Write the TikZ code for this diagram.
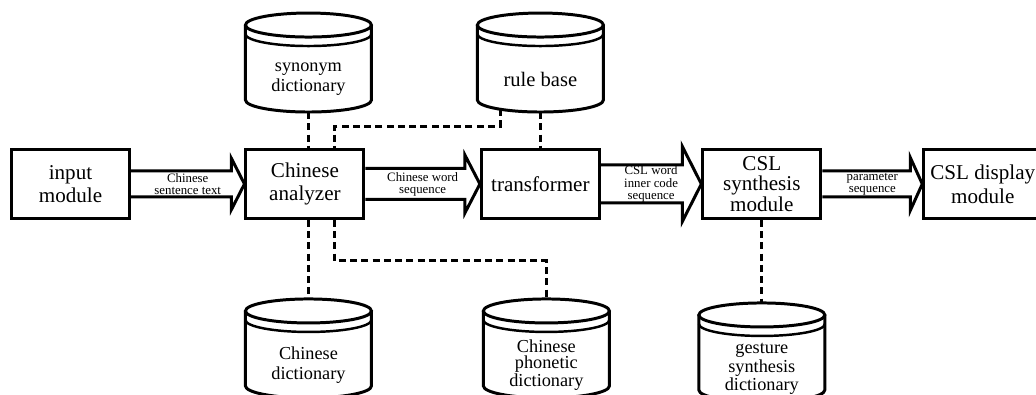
\documentclass[tikz,border=0pt]{standalone}
\usepackage{fontspec}
\setmainfont{Liberation Serif}
\usetikzlibrary{calc,positioning}
\tikzset{
  modul/.style={
    draw,
    line width=1.7pt,
    align=center,
    minimum width=2.36cm,
    minimum height=1.38cm,
    inner sep=2pt,
    font=\fontsize{12}{13.5}\selectfont
  },
  dbase/.style={
    align=center,
    minimum width=2.52cm,
    minimum height=1.32cm,
    inner sep=0pt,
    outer sep=0pt,
    font=\fontsize{10.4}{11.3}\selectfont
  },
  dbline/.style={
    line width=1.7pt
  },
  link/.style={
    line width=1.7pt,
    dash pattern=on 4pt off 2.4pt
  },
  barrow/.style={
    line width=1.7pt,
    miter limit=10
  },
  flowtext/.style={
    align=center,
    inner sep=0pt,
    font=\fontsize{7.3}{6.9}\selectfont
  }
}

\begin{document}
\begin{tikzpicture}[x=0.02cm, y=0.02cm]
\useasboundingbox (0,0) rectangle (1036,395);
% main row
\node[modul] (in) at (70.5,211) {input\\module};
\node[modul, right=2.27cm of in] (an) {Chinese\\analyzer};
\node[modul, right=2.29cm of an] (tr) {transformer};
\node[modul, right=2.01cm of tr, font=\fontsize{12}{11.8}\selectfont] (cs) {CSL\\synthesis\\module};
\node[modul, right=2.0cm of cs] (cd) {CSL display\\module};
% dictionaries
\node[dbase, above=0.72cm of an, xshift=0.07cm] (syn) {synonym\\dictionary};
\node[dbase, above=0.72cm of tr, font=\fontsize{11.7}{12}\selectfont] (rule) {rule base};
\node[dbase, below=2.24cm of an, xshift=0.07cm] (cdict) {Chinese\\dictionary};
\node[dbase, below=2.24cm of tr, xshift=0.12cm, font=\fontsize{10.4}{9.2}\selectfont] (phon) {Chinese\\phonetic\\dictionary};
\node[dbase, below=2.32cm of cs, font=\fontsize{10.4}{9.2}\selectfont] (gest) {gesture\\synthesis\\dictionary};
\foreach \c in {syn,rule,cdict,phon,gest}{
  \draw[dbline] ($(\c.north)+(0,21)$) ellipse [x radius=63, y radius=12];
  \draw[dbline] ($(\c.north west)+(0,21)$) -- ($(\c.south west)+(0,12)$)
    arc[start angle=180, end angle=360, x radius=63, y radius=12] -- ($(\c.north east)+(0,21)$);
  \draw[line width=1.4pt] ($(\c.north west)+(0,12)$) arc[start angle=180, end angle=360, x radius=63, y radius=12];
}
% block arrows
\foreach \a/\b/\h/\hh/\l/\txt in {in/an/13/25.5/13/{Chinese\\sentence text},
    an/tr/15.5/29/15/{Chinese word\\sequence},
    tr/cs/19/37.5/19/{CSL word\\inner code\\sequence},
    cs/cd/13/26.5/12/{parameter\\sequence}}{
  \draw[barrow] ([shift={(0,\h)}]\a.east) -- ([shift={(-\l,\h)}]\b.west)
    -- ([shift={(-\l,\hh)}]\b.west) -- (\b.west) -- ([shift={(-\l,-\hh)}]\b.west)
    -- ([shift={(-\l,-\h)}]\b.west) -- ([shift={(0,-\h)}]\a.east);
  \node[flowtext] (\a-lbl) at ($(\a.east)!0.5!(\b.west)$) {\txt};
}
% dashed links
\draw[link] (syn.south) -- (syn.south |- an.north);
\draw[link] ([shift={(-40,3)}]rule.south) -- ++(0,-17) -| ([shift={(30,0)}]an.north);
\draw[link] (rule.south) -- (rule.south |- tr.north);
\draw[link] (cdict.north |- an.south) -- ([shift={(0,33)}]cdict.north);
\draw[link] ([shift={(30,0)}]an.south) -- ++(0,-41) -| ([shift={(0,33)}]phon.north);
\draw[link] (cs.south) -- ([shift={(0,33)}]gest.north);
\end{tikzpicture}
\end{document}
